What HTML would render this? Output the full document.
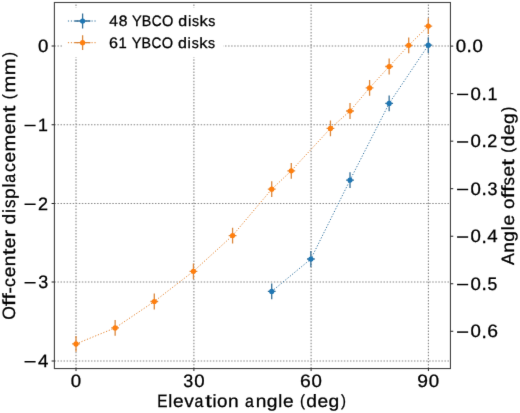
<!DOCTYPE html>
<html><head><meta charset="utf-8"><style>
html,body{margin:0;padding:0;background:#fff;width:520px;height:413px;overflow:hidden}
svg{display:block;will-change:transform}

text{font-family:"Liberation Sans", sans-serif;fill:#000;stroke:#000;stroke-width:0.3px;text-rendering:geometricPrecision}
</style></head><body>
<svg width="520" height="413" viewBox="0 0 520 413">
<defs><filter id="bl" color-interpolation-filters="sRGB" filterUnits="userSpaceOnUse" x="0" y="0" width="520" height="413"><feConvolveMatrix order="3" kernelMatrix="0.00524 0.06192 0.00524 0.06192 0.73137 0.06192 0.00524 0.06192 0.00524" divisor="1" edgeMode="duplicate"/></filter></defs>
<g filter="url(#bl)">
<rect width="520" height="413" fill="#fff"/>
<path d="M76.00 368.55V2.50M193.90 368.55V2.50M311.10 368.55V2.50M428.40 368.55V2.50M54.40 46.00H450.45M54.40 124.75H450.45M54.40 203.50H450.45M54.40 282.00H450.45M54.40 361.00H450.45" stroke="#8a8a8a" stroke-width="1.1" stroke-dasharray="1.5 1.547" fill="none"/>
<path d="M76.00 343.90 L115.14 327.90 L154.29 301.50 L193.43 271.30 L232.58 235.60 L271.72 189.20 L291.29 170.80 L330.44 128.40 L350.01 111.00 L369.58 87.90 L389.15 66.50 L408.72 45.35 L428.30 26.10" stroke="#e58531" stroke-width="1.0" stroke-dasharray="1.2 1.75" fill="none"/>
<path d="M76.00 336.00V351.80M72.10 343.90H79.90M115.14 320.00V335.80M111.24 327.90H119.04M154.29 293.60V309.40M150.39 301.50H158.19M193.43 263.40V279.20M189.53 271.30H197.33M232.58 227.70V243.50M228.68 235.60H236.48M271.72 181.30V197.10M267.82 189.20H275.62M291.29 162.90V178.70M287.39 170.80H295.19M330.44 120.50V136.30M326.54 128.40H334.34M350.01 103.10V118.90M346.11 111.00H353.91M369.58 80.00V95.80M365.68 87.90H373.48M389.15 58.60V74.40M385.25 66.50H393.05M408.72 37.45V53.25M404.82 45.35H412.62M428.30 18.20V34.00M424.40 26.10H432.20" stroke="#db883e" stroke-width="1.3" fill="none"/>
<circle cx="76.00" cy="343.90" r="2.6" fill="#ff7f0e"/>
<circle cx="115.14" cy="327.90" r="2.6" fill="#ff7f0e"/>
<circle cx="154.29" cy="301.50" r="2.6" fill="#ff7f0e"/>
<circle cx="193.43" cy="271.30" r="2.6" fill="#ff7f0e"/>
<circle cx="232.58" cy="235.60" r="2.6" fill="#ff7f0e"/>
<circle cx="271.72" cy="189.20" r="2.6" fill="#ff7f0e"/>
<circle cx="291.29" cy="170.80" r="2.6" fill="#ff7f0e"/>
<circle cx="330.44" cy="128.40" r="2.6" fill="#ff7f0e"/>
<circle cx="350.01" cy="111.00" r="2.6" fill="#ff7f0e"/>
<circle cx="369.58" cy="87.90" r="2.6" fill="#ff7f0e"/>
<circle cx="389.15" cy="66.50" r="2.6" fill="#ff7f0e"/>
<circle cx="408.72" cy="45.35" r="2.6" fill="#ff7f0e"/>
<circle cx="428.30" cy="26.10" r="2.6" fill="#ff7f0e"/>
<path d="M271.72 291.40 L310.86 259.00 L350.01 180.10 L389.15 103.40 L428.30 45.20" stroke="#3072a0" stroke-width="1.0" stroke-dasharray="1.2 1.75" fill="none"/>
<path d="M271.72 283.50V299.30M267.82 291.40H275.62M310.86 251.10V266.90M306.96 259.00H314.76M350.01 172.20V188.00M346.11 180.10H353.91M389.15 95.50V111.30M385.25 103.40H393.05M428.30 37.30V53.10M424.40 45.20H432.20" stroke="#377098" stroke-width="1.3" fill="none"/>
<circle cx="271.72" cy="291.40" r="2.6" fill="#1f77b4"/>
<circle cx="310.86" cy="259.00" r="2.6" fill="#1f77b4"/>
<circle cx="350.01" cy="180.10" r="2.6" fill="#1f77b4"/>
<circle cx="389.15" cy="103.40" r="2.6" fill="#1f77b4"/>
<circle cx="428.30" cy="45.20" r="2.6" fill="#1f77b4"/>
<rect x="62" y="7.8" width="161.4" height="49.5" rx="2.5" fill="#fff" fill-opacity="1"/>
<path d="M67.9 21.0H97.4" stroke="#3072a0" stroke-width="1.0" stroke-dasharray="1.2 1.75"/>
<path d="M82.6 13.6V28.4M74.8 21.0H90.4" stroke="#377098" stroke-width="1.3"/>
<circle cx="82.6" cy="21.0" r="2.6" fill="#1f77b4"/>
<g font-size="15.49"><text transform="translate(109.34 26.01) scale(1.004 0.964)">4</text><text transform="translate(118.68 26.06) scale(1.015 0.972)">8</text><text transform="translate(132.09 26.01) scale(0.940 0.964)">Y</text><text transform="translate(141.72 26.01) scale(0.925 0.964)">B</text><text transform="translate(151.70 26.06) scale(0.884 0.972)">C</text><text transform="translate(162.00 26.06) scale(0.941 0.972)">O</text><text transform="translate(178.30 26.06) scale(1.035 0.959)">d</text><text transform="translate(187.91 26.00) scale(0.974 0.954)">i</text><text transform="translate(192.03 26.12) scale(0.913 0.956)">s</text><text transform="translate(199.54 26.00) scale(1.065 0.954)">k</text><text transform="translate(208.26 26.12) scale(0.913 0.956)">s</text></g>
<path d="M67.9 42.7H97.4" stroke="#e58531" stroke-width="1.0" stroke-dasharray="1.2 1.75"/>
<path d="M82.6 35.300000000000004V50.1M74.8 42.7H90.4" stroke="#db883e" stroke-width="1.3"/>
<circle cx="82.6" cy="42.7" r="2.6" fill="#ff7f0e"/>
<g font-size="15.49"><text transform="translate(108.88 47.81) scale(1.039 0.972)">6</text><text transform="translate(118.54 47.76) scale(0.959 0.964)">1</text><text transform="translate(131.78 47.76) scale(0.940 0.964)">Y</text><text transform="translate(141.41 47.76) scale(0.925 0.964)">B</text><text transform="translate(151.39 47.81) scale(0.884 0.972)">C</text><text transform="translate(161.69 47.81) scale(0.941 0.972)">O</text><text transform="translate(177.99 47.81) scale(1.035 0.959)">d</text><text transform="translate(187.60 47.75) scale(0.974 0.954)">i</text><text transform="translate(191.72 47.87) scale(0.913 0.956)">s</text><text transform="translate(199.23 47.75) scale(1.065 0.954)">k</text><text transform="translate(207.95 47.87) scale(0.913 0.956)">s</text></g>
<rect x="54.4" y="2.5" width="396.05" height="366.05" fill="none" stroke="#444" stroke-width="1.1"/>
<path d="M76.00 368.55v2.5M193.90 368.55v2.5M311.10 368.55v2.5M428.40 368.55v2.5M54.40 46.00h-2.8M54.40 124.75h-2.8M54.40 203.50h-2.8M54.40 282.00h-2.8M54.40 361.00h-2.8M450.45 46.10h2.8M450.45 93.63h2.8M450.45 141.16h2.8M450.45 188.69h2.8M450.45 236.22h2.8M450.45 283.75h2.8M450.45 331.28h2.8" stroke="#222" stroke-width="1"/>
<g font-size="18.59"><text transform="translate(37.93 52.07) scale(1.004 0.972)">0</text></g>
<g font-size="18.59"><rect x="24.53" y="124.77" width="11.08" height="1.47"/><text transform="translate(38.08 130.76) scale(0.959 0.964)">1</text></g>
<g font-size="18.59"><rect x="24.53" y="203.52" width="11.08" height="1.47"/><text transform="translate(37.88 209.50) scale(0.968 0.967)">2</text></g>
<g font-size="18.59"><rect x="24.53" y="282.02" width="11.08" height="1.47"/><text transform="translate(38.15 288.07) scale(0.964 0.972)">3</text></g>
<g font-size="18.59"><rect x="24.53" y="361.02" width="11.08" height="1.47"/><text transform="translate(37.92 367.01) scale(1.004 0.964)">4</text></g>
<g font-size="18.59"><text transform="translate(70.81 387.02) scale(1.004 0.972)">0</text></g>
<g font-size="18.59"><text transform="translate(183.30 387.02) scale(0.964 0.972)">3</text><text transform="translate(194.34 387.02) scale(1.004 0.972)">0</text></g>
<g font-size="18.59"><text transform="translate(300.09 387.02) scale(1.039 0.972)">6</text><text transform="translate(311.54 387.02) scale(1.004 0.972)">0</text></g>
<g font-size="18.59"><text transform="translate(417.35 387.02) scale(1.037 0.972)">9</text><text transform="translate(428.84 387.02) scale(1.004 0.972)">0</text></g>
<g font-size="18.59"><text transform="translate(455.64 52.22) scale(1.004 0.972)">0</text><text transform="translate(466.61 52.40) scale(1.031 1.055)">.</text><text transform="translate(472.53 52.22) scale(1.004 0.972)">0</text></g>
<g font-size="18.59"><rect x="457.08" y="93.70" width="11.08" height="1.47"/><text transform="translate(470.47 99.75) scale(1.004 0.972)">0</text><text transform="translate(481.44 99.93) scale(1.031 1.055)">.</text><text transform="translate(487.51 99.69) scale(0.959 0.964)">1</text></g>
<g font-size="18.59"><rect x="457.08" y="141.23" width="11.08" height="1.47"/><text transform="translate(470.47 147.28) scale(1.004 0.972)">0</text><text transform="translate(481.44 147.46) scale(1.031 1.055)">.</text><text transform="translate(487.31 147.21) scale(0.968 0.967)">2</text></g>
<g font-size="18.59"><rect x="457.08" y="188.76" width="11.08" height="1.47"/><text transform="translate(470.47 194.81) scale(1.004 0.972)">0</text><text transform="translate(481.44 194.99) scale(1.031 1.055)">.</text><text transform="translate(487.58 194.81) scale(0.964 0.972)">3</text></g>
<g font-size="18.59"><rect x="457.08" y="236.29" width="11.08" height="1.47"/><text transform="translate(470.47 242.34) scale(1.004 0.972)">0</text><text transform="translate(481.44 242.52) scale(1.031 1.055)">.</text><text transform="translate(487.35 242.28) scale(1.004 0.964)">4</text></g>
<g font-size="18.59"><rect x="457.08" y="283.82" width="11.08" height="1.47"/><text transform="translate(470.47 289.87) scale(1.004 0.972)">0</text><text transform="translate(481.44 290.05) scale(1.031 1.055)">.</text><text transform="translate(487.58 289.88) scale(0.947 0.969)">5</text></g>
<g font-size="18.59"><rect x="457.08" y="331.35" width="11.08" height="1.47"/><text transform="translate(470.47 337.40) scale(1.004 0.972)">0</text><text transform="translate(481.44 337.58) scale(1.031 1.055)">.</text><text transform="translate(487.17 337.40) scale(1.039 0.972)">6</text></g>
<g font-size="18.59"><text transform="translate(157.20 407.21) scale(0.825 0.964)">E</text><text transform="translate(168.35 407.20) scale(0.974 0.954)">l</text><text transform="translate(172.98 407.35) scale(1.029 0.953)">e</text><text transform="translate(184.17 407.28) scale(1.028 0.941)">v</text><text transform="translate(194.57 407.35) scale(0.856 0.953)">a</text><text transform="translate(205.15 407.08) scale(1.273 0.976)">t</text><text transform="translate(212.43 407.20) scale(0.974 0.954)">i</text><text transform="translate(217.07 407.35) scale(1.012 0.953)">o</text><text transform="translate(228.06 407.28) scale(1.027 0.947)">n</text><text transform="translate(244.95 407.35) scale(0.856 0.953)">a</text><text transform="translate(255.75 407.28) scale(1.027 0.947)">n</text><text transform="translate(266.79 407.26) scale(1.035 0.939)">g</text><text transform="translate(278.31 407.20) scale(0.974 0.954)">l</text><text transform="translate(282.94 407.35) scale(1.029 0.953)">e</text><text transform="translate(299.89 406.13) scale(0.805 0.869)">(</text><text transform="translate(306.37 407.27) scale(1.035 0.959)">d</text><text transform="translate(317.60 407.35) scale(1.029 0.953)">e</text><text transform="translate(328.49 407.26) scale(1.035 0.939)">g</text><text transform="translate(340.89 406.13) scale(0.805 0.869)">)</text></g>
<g transform="translate(15.0 186.0) rotate(-90)"><g font-size="18.59"><text transform="translate(-133.85 -0.23) scale(0.941 0.972)">O</text><text transform="translate(-120.01 -0.30) scale(1.251 0.955)">f</text><text transform="translate(-113.78 -0.30) scale(1.251 0.955)">f</text><text transform="translate(-107.61 -0.25) scale(1.027 0.932)">-</text><text transform="translate(-101.01 -0.15) scale(0.956 0.953)">c</text><text transform="translate(-91.34 -0.15) scale(1.029 0.953)">e</text><text transform="translate(-80.27 -0.22) scale(1.027 0.947)">n</text><text transform="translate(-69.28 -0.42) scale(1.273 0.976)">t</text><text transform="translate(-62.29 -0.15) scale(1.029 0.953)">e</text><text transform="translate(-51.46 -0.22) scale(1.220 0.947)">r</text><text transform="translate(-38.49 -0.23) scale(1.035 0.959)">d</text><text transform="translate(-26.97 -0.30) scale(0.974 0.954)">i</text><text transform="translate(-22.02 -0.15) scale(0.913 0.956)">s</text><text transform="translate(-12.92 -0.24) scale(1.036 0.938)">p</text><text transform="translate(-1.60 -0.30) scale(0.974 0.954)">l</text><text transform="translate(3.25 -0.15) scale(0.856 0.953)">a</text><text transform="translate(13.93 -0.15) scale(0.956 0.953)">c</text><text transform="translate(23.61 -0.15) scale(1.029 0.953)">e</text><text transform="translate(34.60 -0.22) scale(1.085 0.947)">m</text><text transform="translate(51.74 -0.15) scale(1.029 0.953)">e</text><text transform="translate(62.80 -0.22) scale(1.027 0.947)">n</text><text transform="translate(73.80 -0.42) scale(1.273 0.976)">t</text><text transform="translate(86.84 -1.37) scale(0.805 0.869)">(</text><text transform="translate(93.42 -0.22) scale(1.085 0.947)">m</text><text transform="translate(110.66 -0.22) scale(1.085 0.947)">m</text><text transform="translate(128.97 -1.37) scale(0.805 0.869)">)</text></g></g>
<g transform="translate(514.5 186.35) rotate(-90)"><g font-size="18.59"><text transform="translate(-78.77 -0.29) scale(0.959 0.964)">A</text><text transform="translate(-66.43 -0.22) scale(1.027 0.947)">n</text><text transform="translate(-55.38 -0.24) scale(1.035 0.939)">g</text><text transform="translate(-43.87 -0.30) scale(0.974 0.954)">l</text><text transform="translate(-39.23 -0.15) scale(1.029 0.953)">e</text><text transform="translate(-22.69 -0.15) scale(1.012 0.953)">o</text><text transform="translate(-11.97 -0.30) scale(1.251 0.955)">f</text><text transform="translate(-5.74 -0.30) scale(1.251 0.955)">f</text><text transform="translate(0.90 -0.15) scale(0.913 0.956)">s</text><text transform="translate(9.80 -0.15) scale(1.029 0.953)">e</text><text transform="translate(20.64 -0.42) scale(1.273 0.976)">t</text><text transform="translate(33.68 -1.37) scale(0.805 0.869)">(</text><text transform="translate(40.16 -0.23) scale(1.035 0.959)">d</text><text transform="translate(51.39 -0.15) scale(1.029 0.953)">e</text><text transform="translate(62.29 -0.24) scale(1.035 0.939)">g</text><text transform="translate(74.68 -1.37) scale(0.805 0.869)">)</text></g></g>
</g></svg>
</body></html>
